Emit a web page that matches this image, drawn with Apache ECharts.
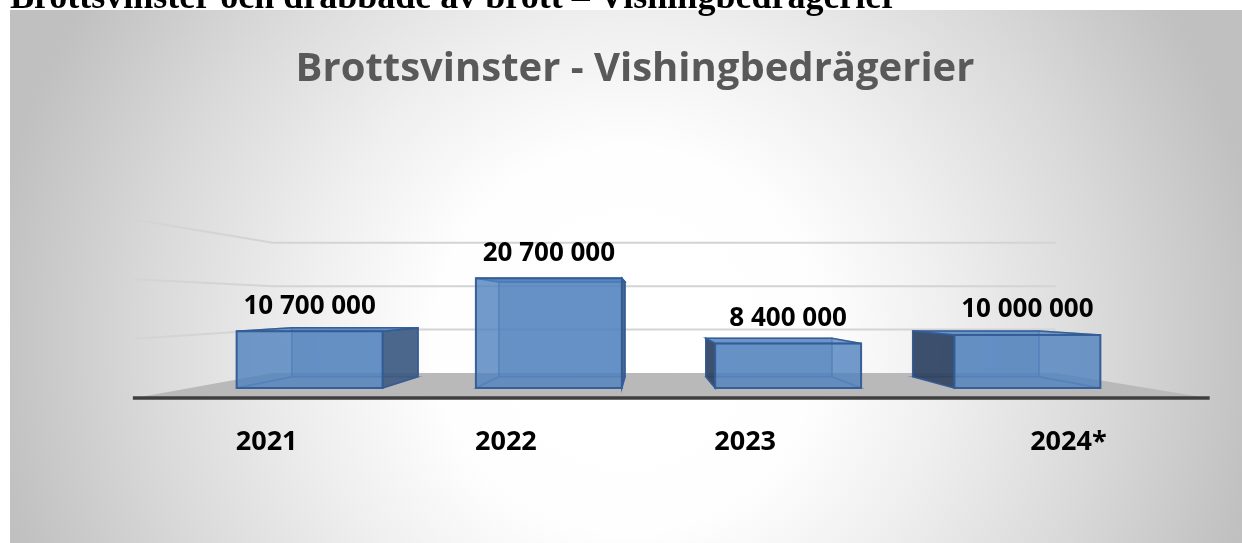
<!DOCTYPE html>
<html>
<head>
<meta charset="utf-8">
<script src="https://cdn.jsdelivr.net/npm/echarts@6/dist/echarts.min.js"></script>
<style>
  html, body { margin: 0; padding: 0; background: #fff; }
  #chart { width: 1242px; height: 543px; }
</style>
</head>
<body>
<div id="chart"></div>
<script>
  // data
  const categories = ['2021', '2022', '2023', '2024*']
  const values = [10700000, 20700000, 8400000, 10000000]
  const gridValues = [10000000, 20000000, 30000000]

  const fmt = v => String(v).replace(/\B(?=(\d{3})+(?!\d))/g, ' ')

  // 3D look: vanishing point and depth scales (relative to the bar front plane)
  const VP_X = 0.476, VP_Y = 0.478
  const BACK = 0.865, WALL = 0.818, FRONT = 1.121

  function vanish (cs) {
    return [cs.x + cs.width * VP_X, cs.y + cs.height * VP_Y]
  }
  function proj (vp, x, y, s) {
    return [vp[0] + (x - vp[0]) * s, vp[1] + (y - vp[1]) * s]
  }

  function renderFloor (params, api) {
    const cs = params.coordSys
    const vp = vanish(cs)
    const y0 = api.coord([0, 0])[1]
    const l = cs.x, r = cs.x + cs.width
    const fl = proj(vp, l, y0, FRONT), fr = proj(vp, r, y0, FRONT)
    const bl = proj(vp, l, y0, WALL), br = proj(vp, r, y0, WALL)
    return {
      type: 'group',
      children: [
        { type: 'polygon', shape: { points: [fl, fr, br, bl] }, style: { fill: '#b9b9b9' } },
        { type: 'line', shape: { x1: fl[0] - 2, y1: fl[1], x2: fr[0] + 2, y2: fr[1] },
          style: { stroke: '#3f3f3f', lineWidth: 3.5 } }
      ]
    }
  }

  function renderGridLine (params, api) {
    const cs = params.coordSys
    const vp = vanish(cs)
    const y = api.coord([0, api.value(1)])[1]
    const a = proj(vp, cs.x, y, FRONT)
    const b = proj(vp, cs.x, y, WALL)
    const c = proj(vp, cs.x + cs.width, y, WALL)
    return {
      type: 'polyline',
      shape: { points: [a, b, c] },
      style: { stroke: '#d4d4d4', lineWidth: 2, fill: null }
    }
  }

  function renderBar (params, api) {
    const cs = params.coordSys
    const vp = vanish(cs)
    const v = api.value(1)
    const top = api.coord([api.value(0), v])
    const base = api.coord([api.value(0), 0])
    const w = api.size([1, 0])[0] * 0.61
    const x0 = top[0] - w / 2, x1 = top[0] + w / 2, yt = top[1], yb = base[1]
    const FLb = [x0, yb], FRb = [x1, yb], FRt = [x1, yt], FLt = [x0, yt]
    const BLb = proj(vp, x0, yb, BACK), BRb = proj(vp, x1, yb, BACK)
    const BRt = proj(vp, x1, yt, BACK), BLt = proj(vp, x0, yt, BACK)
    const edge = 'rgba(52,92,150,0.95)'
    const inner = 'rgba(80,120,180,0.55)'
    const faceLine = { fill: null, stroke: inner, lineWidth: 1.5 }
    const kids = []
    kids.push({ type: 'polygon', shape: { points: [BLb, BRb, BRt, BLt] },
      style: { fill: 'rgba(79,129,189,0.35)', stroke: inner, lineWidth: 1.5 } })
    kids.push({ type: 'polygon', shape: { points: [FLb, FRb, BRb, BLb] }, style: faceLine })
    const rightVis = x1 < vp[0]
    const leftVis = x0 > vp[0]
    kids.push({ type: 'polygon', shape: { points: [FLb, BLb, BLt, FLt] },
      style: leftVis ? { fill: 'rgba(42,62,92,0.88)', stroke: edge, lineWidth: 1.5 } : faceLine })
    kids.push({ type: 'polygon', shape: { points: [FRb, BRb, BRt, FRt] },
      style: rightVis ? { fill: 'rgba(55,85,125,0.85)', stroke: edge, lineWidth: 1.5 } : faceLine })
    kids.push({ type: 'polygon', shape: { points: [FLt, FRt, BRt, BLt] },
      style: { fill: 'rgba(79,129,189,0.75)', stroke: edge, lineWidth: 1.5 } })
    kids.push({ type: 'polygon', shape: { points: [FLb, FRb, FRt, FLt] },
      style: { fill: 'rgba(79,129,189,0.8)', stroke: edge, lineWidth: 2 } })
    kids.push({ type: 'text', style: {
      text: fmt(v), x: top[0], y: yt - 25, align: 'center', verticalAlign: 'middle',
      fontFamily: 'Open Sans', fontWeight: 'bold', fontSize: 26, fill: '#000'
    } })
    return { type: 'group', children: kids }
  }

  const labelShift = [[0, 86, 0, 0], [0, 86, 0, 0], [0, 86, 0, 0], [0, 0, 0, 82]]

  const chart = echarts.init(document.getElementById('chart'))
  chart.setOption({
    backgroundColor: '#ffffff',
    animation: false,
    graphic: [
      {
        type: 'rect', z: -100, silent: true,
        shape: { x: 10, y: 10, width: 1232, height: 533 },
        style: {
          fill: new echarts.graphic.RadialGradient(0.5, 0.62, 1.2, [
            { offset: 0, color: '#ffffff' },
            { offset: 0.3, color: '#fefefe' },
            { offset: 0.5, color: '#efefef' },
            { offset: 0.75, color: '#d9d9d9' },
            { offset: 1, color: '#c0c0c0' }
          ])
        }
      },
      {
        type: 'text', z: 100, silent: true,
        style: {
          text: 'Brottsvinster och drabbade av brott – Vishingbedrägerier',
          x: 10, y: 17, verticalAlign: 'bottom',
          fontFamily: 'Liberation Serif', fontWeight: 'bold', fontSize: 36, fill: '#000'
        }
      }
    ],
    title: {
      text: 'Brottsvinster - Vishingbedrägerier',
      left: 630, top: 45, textAlign: 'center',
      textStyle: { fontFamily: 'Open Sans', fontWeight: 'bold', fontSize: 40, color: '#595959' }
    },
    grid: { left: 190, right: 95, top: 229, bottom: 155 },
    xAxis: {
      type: 'category',
      data: categories.map((c, i) => ({ value: c, textStyle: { padding: labelShift[i] } })),
      axisLine: { show: false },
      axisTick: { show: false },
      axisLabel: { margin: 41, fontFamily: 'Open Sans', fontWeight: 'bold', fontSize: 27, color: '#000' }
    },
    yAxis: {
      type: 'value', min: 0, max: 30000000, interval: 10000000, show: false,
      splitLine: { show: false }
    },
    series: [
      { type: 'custom', name: 'floor', silent: true, z: 1, renderItem: renderFloor, data: [[0, 0]] },
      { type: 'custom', name: 'grid', silent: true, z: 2, renderItem: renderGridLine,
        data: gridValues.map(v => [0, v]) },
      { type: 'custom', name: 'Brottsvinster', silent: true, z: 3, renderItem: renderBar,
        data: values.map((v, i) => [i, v]) }
    ]
  })
</script>
</body>
</html>
